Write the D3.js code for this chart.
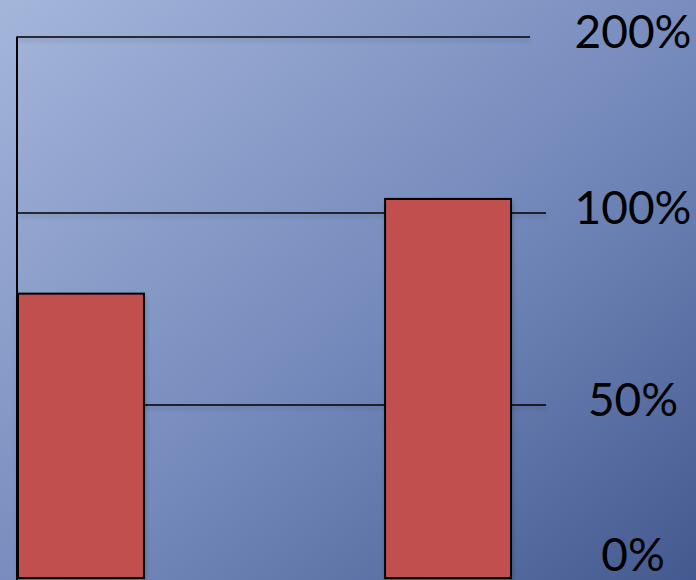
<!DOCTYPE html>
<html>
<head>
<meta charset="utf-8">
<script src="https://d3js.org/d3.v7.min.js"></script>
<style>
  html, body { margin: 0; padding: 0; overflow: hidden; }
  svg { display: block; }
  .tick-label { font-family: Lato, "Open Sans", sans-serif; font-size: 46px; fill: #000; }
</style>
</head>
<body>
<div id="chart"></div>
<script>
// data
var categories = ["A", "B"];
var values = [79, 108];
var tickValues = [0, 50, 100, 200];
var tickLabels = ["0%", "50%", "100%", "200%"];

var width = 696, height = 580;

var svg = d3.select("#chart").append("svg")
  .attr("width", width)
  .attr("height", height);

var defs = svg.append("defs");
var grad = defs.append("linearGradient")
  .attr("id", "bg")
  .attr("x1", "0").attr("y1", "0")
  .attr("x2", "1").attr("y2", "1");
grad.append("stop").attr("offset", "0%").attr("stop-color", "#a5b6db");
grad.append("stop").attr("offset", "55%").attr("stop-color", "#7489bb");
grad.append("stop").attr("offset", "100%").attr("stop-color", "#44598f");

// userSpaceOnUse so the flat gridlines still get a shadow
var shadow = defs.append("filter").attr("id", "shadow")
  .attr("filterUnits", "userSpaceOnUse")
  .attr("x", 0).attr("y", 0).attr("width", width).attr("height", height);
shadow.append("feDropShadow")
  .attr("dx", 1).attr("dy", 3).attr("stdDeviation", 2)
  .attr("flood-color", "#000").attr("flood-opacity", 0.22);

svg.append("rect")
  .attr("width", width).attr("height", height)
  .attr("fill", "url(#bg)");

// the axis spacing in the picture is not linear, so piecewise
var y = d3.scaleLinear()
  .domain(tickValues)
  .range([578, 405, 213, 37]);

var x = d3.scaleBand()
  .domain(categories)
  .range([18, 511])
  .paddingInner(0.657)
  .paddingOuter(0);

// gridlines
var gridEnd = {0: 546, 50: 546, 100: 546, 200: 530};
svg.append("g")
  .selectAll("line")
  .data(tickValues.filter(function(d) { return d > 0; }))
  .enter().append("line")
  .attr("x1", 17)
  .attr("x2", function(d) { return gridEnd[d]; })
  .attr("y1", function(d) { return y(d); })
  .attr("y2", function(d) { return y(d); })
  .attr("stroke", "#000")
  .attr("stroke-width", 1.3)
  .attr("filter", "url(#shadow)");

// vertical axis line
svg.append("line")
  .attr("x1", 17).attr("x2", 17)
  .attr("y1", y(200) - 0.5).attr("y2", height)
  .attr("stroke", "#000")
  .attr("stroke-width", 2);

// bars
svg.append("g")
  .selectAll("rect")
  .data(values)
  .enter().append("rect")
  .attr("x", function(d, i) { return x(categories[i]); })
  .attr("width", x.bandwidth())
  .attr("y", function(d) { return y(d); })
  .attr("height", function(d) { return y(0) - y(d); })
  .attr("fill", "#c0504d")
  .attr("stroke", "#000")
  .attr("stroke-width", 2)
  .attr("filter", "url(#shadow)");

// tick labels
svg.append("g")
  .selectAll("text")
  .data(tickValues)
  .enter().append("text")
  .attr("class", "tick-label")
  .attr("x", 633)
  .attr("y", function(d) { return Math.min(y(d) - 6, 554); })
  .attr("dy", "0.36em")
  .attr("text-anchor", "middle")
  .text(function(d, i) { return tickLabels[i]; });
</script>
</body>
</html>
